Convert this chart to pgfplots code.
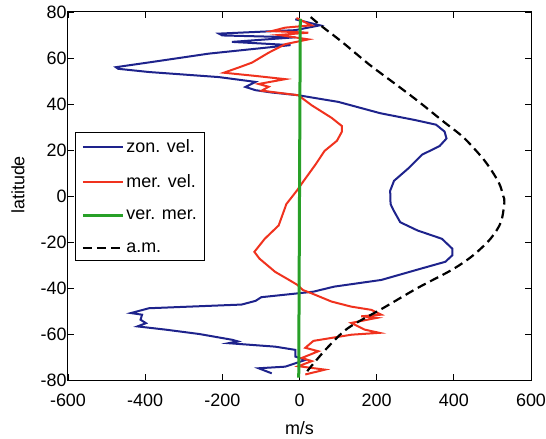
\documentclass[border=0pt]{standalone}
\usepackage{fontspec}
\setmainfont{Liberation Sans}
\usepackage{pgfplots}
\pgfplotsset{compat=1.18}
\definecolor{zonc}{RGB}{30,35,140}
\definecolor{merc}{RGB}{240,50,30}
\definecolor{verc}{RGB}{40,160,40}

\begin{document}
\begin{tikzpicture}
\begin{axis}[
  scale only axis, width=463bp, height=368bp,
  xmin=-600, xmax=600, ymin=-80, ymax=80,
  xtick={-600,-400,...,600}, ytick={-80,-60,...,80},
  tick align=inside, major tick length=6bp,
  axis line style={line width=1bp},
  every tick/.style={black, line width=0.8bp},
  /pgf/number format/assume math mode=true,
  ticklabel style={font=\fontsize{18}{21}\selectfont},
  xticklabel style={yshift=-10bp},
  yticklabel style={xshift=2bp},
  ylabel={latitude},
  label style={font=\fontsize{18}{21}\selectfont},
  ylabel style={at={(rel axis cs:0,0.53)}, anchor=center, yshift=50bp},
  legend cell align=left,
  legend style={at={(0.015,0.674)}, anchor=north west, draw=black, line width=0.8bp,
    font=\fontsize{18}{21}\selectfont, inner xsep=6bp, inner ysep=5bp,
    row sep=17bp, nodes={inner xsep=2bp}},
  legend image code/.code={\draw[#1] (0bp,0bp) -- (40bp,0bp);},
]
\coordinate (SW) at (rel axis cs:0,0);
\addplot[zonc, line width=2bp] coordinates {
(-11,76.8) (53,74.2) (-11,72.1) (-209,70.6) (-200,69.8) (-11,69) (-175,67) (-23,65.6)
(-235,61.9) (-381,58.3) (-476,56) (-470,55.3) (-390,53.9) (-209,51.7) (-114,49.6)
(-140,47.4) (-114,46) (-72,45) (-3,43.8) (101,40.9) (209,36) (300,33) (354,31)
(376,28) (381,25) (363,21.7) (318,18) (282,12) (245,6.6) (235,2.3) (236,-3.5)
(243,-6) (261,-11.4) (306,-15) (369,-18.6) (396,-22.9) (396,-25.8) (378,-28.6)
(306,-32) (212,-36.5) (90,-39.4) (36,-41.6) (-3,-42.3) (-99,-44) (-114,-45.6)
(-150,-47.2) (-390,-48.8) (-437,-50.9) (-408,-51.6) (-412,-53.8) (-398,-55.3)
(-420,-56.7) (-347,-58.1) (-260,-60) (-175,-62.5) (-160,-63.2) (-184,-64)
(-63,-65.5) (-11,-66.9) (-11,-69.8) (15,-71.3) (-37,-74.2) (-106,-74.9) (-72,-77.1)
};
\addlegendentry{zon. vel.}
\addplot[merc, line width=2bp] coordinates {
(-8,77.4) (31,74.2) (-37,73.2) (-72,71.7) (23,71) (-54,70) (23,68.1) (-37,66)
(-80,62.3) (-123,58) (-157,55.9) (-196,53.6) (-114,52.2) (-37,50.8) (-106,48.7)
(-80,47.5) (-98,45.8) (-3,43.8) (31,39.5) (83,34) (110,30.4) (110,28) (97,24)
(65,19.6) (42,13.8) (11,6.6) (-7,2.3) (-34,-3.5) (-54,-12.8) (-90,-18.6)
(-117,-24.3) (-104,-27.2) (-63,-33) (-27,-36.5) (-5,-38.7) (9,-40.9) (31,-42.3)
(83,-45.9) (134,-48.1) (186,-49.5) (212,-51.6) (160,-52.3) (200,-53) (134,-55.2)
(169,-58.1) (207,-59.5) (135,-60.3) (83,-61.7) (36,-63) (15,-66) (49,-67.5)
(6,-70.4) (32,-71.8) (-3,-74) (66,-75.5) (15,-77.6)
};
\addlegendentry{mer. vel.}
\addplot[verc, line width=3bp] coordinates {(2,77) (0,0) (-2,-79)};
\addlegendentry{ver. mer.}
\addplot[black, line width=2.2bp, dash pattern=on 9bp off 5bp, smooth] coordinates {
(29,77.8) (56,74) (110,67) (182,57) (254,48) (309,41) (372,32.5) (426,25.3)
(480,15.3) (516,6) (528,0) (531,-2.7) (522,-11.4) (495,-18.6) (450,-25.8)
(396,-32) (306,-40) (216,-48.8) (126,-57.4) (72,-66) (27,-74.7) (18,-76.8)
};
\addlegendentry{a.m.}
\end{axis}
\path (SW) ++(231.5bp,-48bp) node[font=\fontsize{18}{21}\selectfont, anchor=center] {m/s};
\pgfresetboundingbox
\path (SW) ++(-68bp,-59bp) rectangle ++(546bp,439bp);
\end{tikzpicture}
\end{document}
